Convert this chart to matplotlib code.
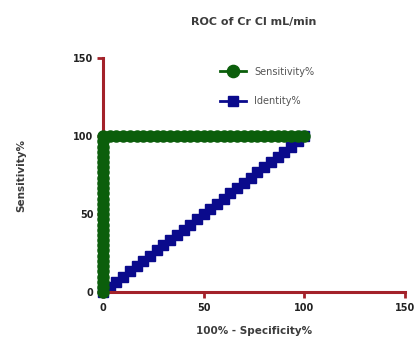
import matplotlib.pyplot as plt

# ROC points (100% - Specificity%, Sensitivity%)
roc_x = [0, 0, 0, 0, 0, 0, 0, 0, 0, 0, 0, 0, 0, 0, 0, 0,
         0, 0, 0, 0, 0, 0, 0, 0, 0, 0, 0, 0, 0, 0, 0,
         3.3, 6.7, 10, 13.3, 16.7, 20, 23.3, 26.7, 30, 33.3, 36.7, 40, 43.3, 46.7, 50,
         53.3, 56.7, 60, 63.3, 66.7, 70, 73.3, 76.7, 80, 83.3, 86.7, 90, 93.3, 96.7, 100]
roc_y = [0, 3.3, 6.7, 10, 13.3, 16.7, 20, 23.3, 26.7, 30, 33.3, 36.7, 40, 43.3, 46.7, 50,
         53.3, 56.7, 60, 63.3, 66.7, 70, 73.3, 76.7, 80, 83.3, 86.7, 90, 93.3, 96.7, 100,
         100, 100, 100, 100, 100, 100, 100, 100, 100, 100, 100, 100, 100, 100, 100,
         100, 100, 100, 100, 100, 100, 100, 100, 100, 100, 100, 100, 100, 100, 100]
identity = [0, 3.3, 6.7, 10, 13.3, 16.7, 20, 23.3, 26.7, 30, 33.3, 36.7, 40, 43.3, 46.7, 50,
            53.3, 56.7, 60, 63.3, 66.7, 70, 73.3, 76.7, 80, 83.3, 86.7, 90, 93.3, 96.7, 100]
ticks = [0, 50, 100, 150]

green = "#0b5e0b"
navy = "#0a0a8c"
axis_red = "#a3222a"
text_grey = "#3c3c3c"

plt.rcParams["font.family"] = ["DejaVu Sans"]

fig = plt.figure(figsize=(4.17, 3.52), dpi=100)
ax = fig.add_axes([0.247, 0.170, 0.724, 0.665])

ax.plot(roc_x, roc_y, color=green, lw=2, marker="o", markersize=8,
        markeredgecolor=green, label="Sensitivity%", zorder=3, clip_on=False)
ax.plot(identity, identity, color=navy, lw=2, marker="s", markersize=7,
        markeredgecolor=navy, label="Identity%", zorder=2, clip_on=False)

ax.set_xlim(0, 150)
ax.set_ylim(0, 150)
ax.set_xticks(ticks)
ax.set_yticks(ticks)
for s in ["top", "right"]:
    ax.spines[s].set_visible(False)
for s in ["left", "bottom"]:
    ax.spines[s].set_color(axis_red)
    ax.spines[s].set_linewidth(2.2)
ax.tick_params(colors=axis_red, width=2, length=4, labelsize=7, pad=3)
for lab in ax.get_xticklabels() + ax.get_yticklabels():
    lab.set_color("#222222")
    lab.set_fontweight("bold")
ax.tick_params(axis="x", pad=4)

ax.set_title("ROC of Cr Cl mL/min", fontsize=8, fontweight="bold",
             color=text_grey, pad=24)
ax.set_xlabel("100% - Specificity%", fontsize=7.5, fontweight="bold",
              color=text_grey, labelpad=9)
ax.set_ylabel("Sensitivity%", fontsize=7.5, fontweight="bold",
              color=text_grey, labelpad=34)

leg = ax.legend(loc="upper left", bbox_to_anchor=(0.36, 1.0), frameon=False,
                fontsize=7, handlelength=2.6, labelspacing=2.0, handletextpad=0.9,
                markerscale=1.1)
for t in leg.get_texts():
    t.set_color("#555555")

fig.savefig("out.png", dpi=100)
